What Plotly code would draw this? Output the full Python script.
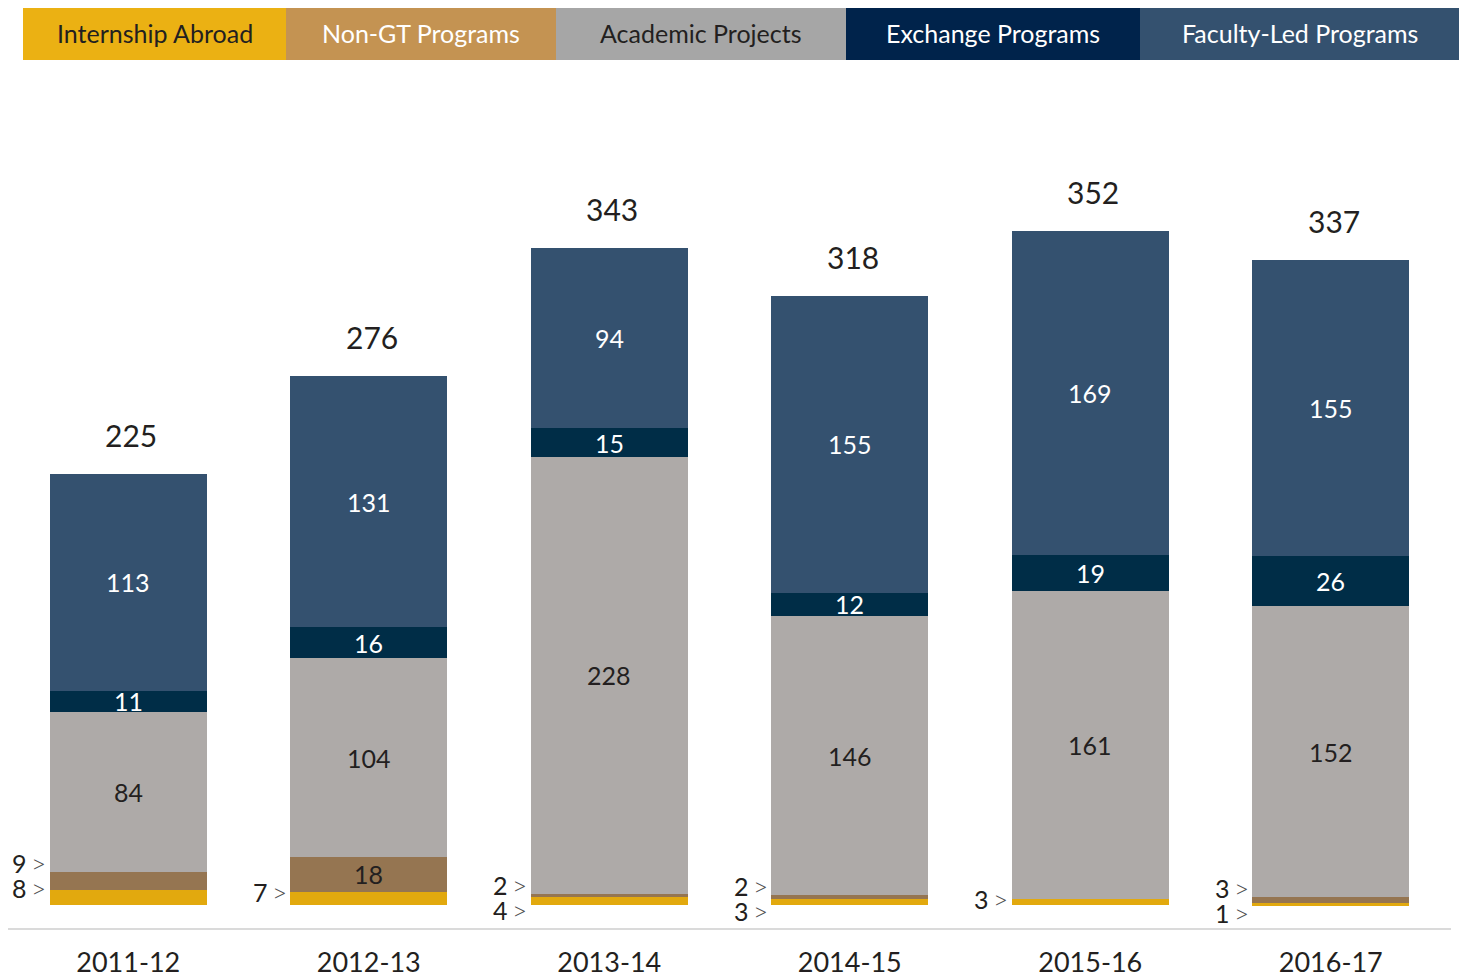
import plotly.graph_objects as go

years = ["2011-12", "2012-13", "2013-14", "2014-15", "2015-16", "2016-17"]
internship = [8, 7, 4, 3, 3, 1]
non_gt = [9, 18, 2, 2, 0, 3]
academic = [84, 104, 228, 146, 161, 152]
exchange = [11, 16, 15, 12, 19, 26]
faculty = [113, 131, 94, 155, 169, 155]
series_names = ["Internship Abroad", "Non-GT Programs", "Academic Projects",
                "Exchange Programs", "Faculty-Led Programs"]
series_values = [internship, non_gt, academic, exchange, faculty]

bar_colors = ["#E2A90E", "#957551", "#AEAAA8", "#002D47", "#34516F"]
legend_colors = ["#EBB113", "#C49352", "#A6A6A6", "#00234B", "#34516F"]
legend_text_colors = ["#231F20", "#FFFFFF", "#231F20", "#FFFFFF", "#FFFFFF"]
inner_text_colors = ["#231F20", "#231F20", "#231F20", "#FFFFFF", "#FFFFFF"]

FONT = "Lato"
W, H = 1459, 975
ML, MR, MT, MB = 8, 8, 139, 47
PW = W - ML - MR
PH = H - MT - MB


def px_x(px):
    return (px - ML) / PW


def px_y(py):
    return (H - MB - py) / PH


fig = go.Figure()
for name, vals, col in zip(series_names, series_values, bar_colors):
    fig.add_trace(go.Bar(x=years, y=vals, name=name, marker_color=col,
                         marker_line_width=0, showlegend=False,
                         hoverinfo="x+y+name"))

annotations = []
totals = [sum(v) for v in zip(*series_values)]
half_bar_px = 78.5


def side_label(yr, yval, yshift, text, xoff):
    annotations.append(dict(x=yr, y=yval, xref="x", yref="y", text=text,
                            showarrow=False, xanchor="center", yanchor="middle",
                            xshift=-half_bar_px - xoff, yshift=yshift,
                            font=dict(family=FONT, size=25, color="#231F20")))
    annotations.append(dict(x=yr, y=yval, xref="x", yref="y", text="&gt;",
                            showarrow=False, xanchor="center", yanchor="middle",
                            xshift=-half_bar_px - 11, yshift=yshift,
                            font=dict(family=FONT, size=26, color="#505050",
                                      weight=300)))


for i, yr in enumerate(years):
    base = 0
    for s, vals in enumerate(series_values):
        v = vals[i]
        if v >= 10:
            annotations.append(dict(x=yr, y=base + v / 2, xref="x", yref="y",
                                    text=str(v), showarrow=False,
                                    xanchor="center", yanchor="middle",
                                    font=dict(family=FONT, size=25,
                                              color=inner_text_colors[s])))
        base += v
    # total above bar
    annotations.append(dict(x=yr, y=totals[i], xref="x", yref="y",
                            text=str(totals[i]), showarrow=False, xshift=3,
                            yshift=39, xanchor="center", yanchor="middle",
                            font=dict(family=FONT, size=30, color="#231F20")))
    # small outside labels (internship & non-GT)
    small_ngt = 0 < non_gt[i] < 10
    top = internship[i] + non_gt[i]
    if small_ngt:
        side_label(yr, top, 9, str(non_gt[i]), 30)
        side_label(yr, top, -16, str(internship[i]), 30)
    else:
        side_label(yr, internship[i], 0, str(internship[i]), 30)

# legend boxes
legend_edges = [23, 286, 556, 846, 1140, 1459]
shapes = []
for j, name in enumerate(series_names):
    x0, x1 = legend_edges[j], legend_edges[j + 1]
    shapes.append(dict(type="rect", xref="paper", yref="paper",
                       x0=px_x(x0), x1=px_x(x1), y0=px_y(60), y1=px_y(8),
                       fillcolor=legend_colors[j], line_width=0, layer="above"))
    annotations.append(dict(x=px_x((x0 + x1) / 2), y=px_y(33), xref="paper",
                            yref="paper", text=name, showarrow=False,
                            xanchor="center", yanchor="middle",
                            font=dict(family=FONT, size=25,
                                      color=legend_text_colors[j])))

fig.update_layout(
    width=W, height=H,
    margin=dict(l=ML, r=MR, t=MT, b=MB, autoexpand=False),
    barmode="stack", bargap=0.347,
    paper_bgcolor="white", plot_bgcolor="white",
    shapes=shapes, annotations=annotations,
    xaxis=dict(type="category", showline=True, linecolor="#DADADA", linewidth=2,
               showgrid=False, ticks="", ticklabelstandoff=10,
               tickfont=dict(family=FONT, size=27, color="#231F20"),
               fixedrange=True),
    yaxis=dict(range=[-12, 400], visible=False, fixedrange=True),
    font=dict(family=FONT),
)

fig.write_html("out.html", config={"displayModeBar": False},
               post_script="document.body.style.margin='0';")
